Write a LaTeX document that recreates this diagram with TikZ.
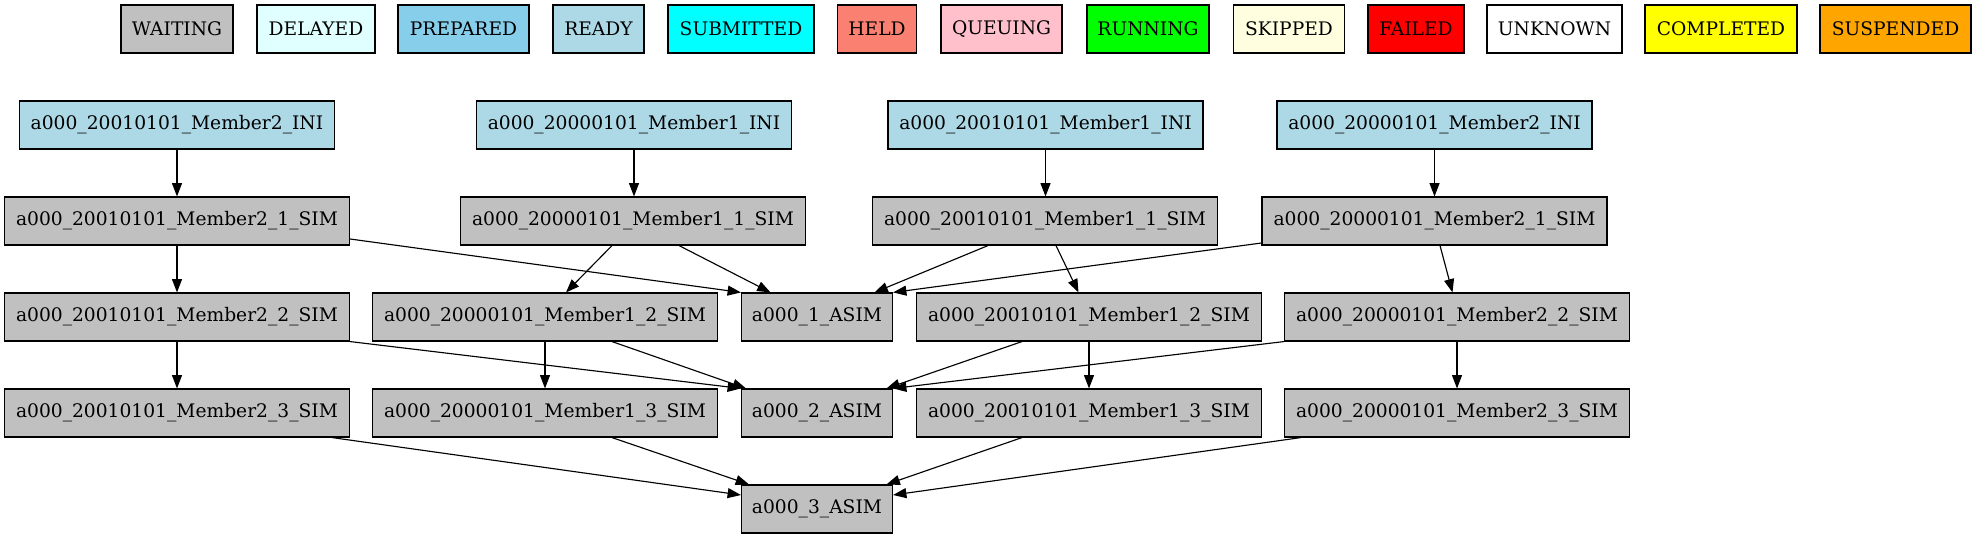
\documentclass[tikz,border=0pt]{standalone}
\usepackage{fontspec}
\setmainfont{DejaVu Serif}
\usetikzlibrary{arrows.meta}
\definecolor{gvgray}{HTML}{C0C0C0}
\definecolor{gvlightcyan}{HTML}{E0FFFF}
\definecolor{gvskyblue}{HTML}{87CEEB}
\definecolor{gvlightblue}{HTML}{ADD8E6}
\definecolor{gvcyan}{HTML}{00FFFF}
\definecolor{gvsalmon}{HTML}{FA8072}
\definecolor{gvpink}{HTML}{FFC0CB}
\definecolor{gvgreen}{HTML}{00FF00}
\definecolor{gvlightyellow}{HTML}{FFFFE0}
\definecolor{gvred}{HTML}{FF0000}
\definecolor{gvyellow}{HTML}{FFFF00}
\definecolor{gvorange}{HTML}{FFA500}
\tikzset{
  box/.style={draw=black, line width=0.85pt, rectangle, minimum height=36pt, inner sep=0pt,
    font=\fontsize{14}{16}\selectfont, anchor=center},
  wd/.style={minimum width=#1*0.75pt},
  ini/.style={box, fill=gvlightblue, wd=315},
  sim/.style={box, fill=gvgray, wd=345},
  asim/.style={box, fill=gvgray, wd=151},
  edge/.style={-{Triangle[length=10pt,width=7.5pt]}, line width=0.85pt}
}
\begin{document}
\begin{tikzpicture}[x=0.75pt, y=-0.75pt]
\useasboundingbox (0,0) rectangle (1977,539);
% legend
\node[box, fill=gvgray, wd=112] (lwaiting) at (177,29) {WAITING};
\node[box, fill=gvlightcyan, wd=118] (ldelayed) at (316,29) {DELAYED};
\node[box, fill=gvskyblue, wd=131] (lprepared) at (463.5,29) {PREPARED};
\node[box, fill=gvlightblue, wd=91] (lready) at (598.5,29) {READY};
\node[box, fill=gvcyan, wd=146] (lsubmitted) at (741,29) {SUBMITTED};
\node[box, fill=gvsalmon, wd=79.5] (lheld) at (877,29) {HELD};
\node[box, fill=gvpink, wd=121] (lqueuing) at (1001.5,29) {QUEUING};
\node[box, fill=gvgreen, wd=122] (lrunning) at (1148,29) {RUNNING};
\node[box, fill=gvlightyellow, wd=111.5] (lskipped) at (1289,29) {SKIPPED};
\node[box, fill=gvred, wd=96] (lfailed) at (1416,29) {FAILED};
\node[box, fill=white, wd=135] (lunknown) at (1554.5,29) {UNKNOWN};
\node[box, fill=gvyellow, wd=152] (lcompleted) at (1721,29) {COMPLETED};
\node[box, fill=gvorange, wd=151] (lsuspended) at (1895.5,29) {SUSPENDED};
% INI row
\node[ini] (ini2b) at (177,125) {a000\_20010101\_Member2\_INI};
\node[ini] (ini1a) at (634,125) {a000\_20000101\_Member1\_INI};
\node[ini] (ini1b) at (1045.5,125) {a000\_20010101\_Member1\_INI};
\node[ini] (ini2a) at (1434.5,125) {a000\_20000101\_Member2\_INI};
% SIM 1 row
\node[sim] (s12b) at (177,221) {a000\_20010101\_Member2\_1\_SIM};
\node[sim] (s11a) at (633,221) {a000\_20000101\_Member1\_1\_SIM};
\node[sim] (s11b) at (1045,221) {a000\_20010101\_Member1\_1\_SIM};
\node[sim] (s12a) at (1434.5,221) {a000\_20000101\_Member2\_1\_SIM};
% row 3
\node[sim] (s22b) at (177,317) {a000\_20010101\_Member2\_2\_SIM};
\node[sim] (s21a) at (545,317) {a000\_20000101\_Member1\_2\_SIM};
\node[asim] (asim1) at (817,317) {a000\_1\_ASIM};
\node[sim] (s21b) at (1089,317) {a000\_20010101\_Member1\_2\_SIM};
\node[sim] (s22a) at (1457,317) {a000\_20000101\_Member2\_2\_SIM};
% row 4
\node[sim] (s32b) at (177,413) {a000\_20010101\_Member2\_3\_SIM};
\node[sim] (s31a) at (545,413) {a000\_20000101\_Member1\_3\_SIM};
\node[asim] (asim2) at (817,413) {a000\_2\_ASIM};
\node[sim] (s31b) at (1089,413) {a000\_20010101\_Member1\_3\_SIM};
\node[sim] (s32a) at (1457,413) {a000\_20000101\_Member2\_3\_SIM};
% row 5
\node[asim] (asim3) at (817,509) {a000\_3\_ASIM};
% INI -> SIM1
\draw[edge] (ini2b.south) -- (ini2b.south |- s12b.north);
\draw[edge] (ini1a.south) -- (ini1a.south |- s11a.north);
\draw[edge] (ini1b.south) -- (ini1b.south |- s11b.north);
\draw[edge] (ini2a.south) -- (ini2a.south |- s12a.north);
% SIM1 -> SIM2
\draw[edge] (s12b.south) -- (s22b.north);
\draw[edge] ([xshift=-21*0.75pt]s11a.south) -- ([xshift=21*0.75pt]s21a.north);
\draw[edge] ([xshift=11*0.75pt]s11b.south) -- ([xshift=-10.5*0.75pt]s21b.north);
\draw[edge] ([xshift=5.5*0.75pt]s12a.south) -- ([xshift=-4.5*0.75pt]s22a.north);
% SIM1 -> ASIM1
\draw[edge] ([yshift=-18*0.75pt]s12b.east) -- (asim1.north west);
\draw[edge] ([xshift=46*0.75pt]s11a.south) -- ([xshift=-46.5*0.75pt]asim1.north);
\draw[edge] ([xshift=-57*0.75pt]s11b.south) -- ([xshift=57.5*0.75pt]asim1.north);
\draw[edge] ([yshift=-22*0.75pt]s12a.west) -- (asim1.north east);
% SIM2 -> SIM3
\draw[edge] (s22b.south) -- (s32b.north);
\draw[edge] (s21a.south) -- (s31a.north);
\draw[edge] (s21b.south) -- (s31b.north);
\draw[edge] (s22a.south) -- (s32a.north);
% SIM2 -> ASIM2
\draw[edge] (s22b.south east) -- (asim2.north west);
\draw[edge] ([xshift=67*0.75pt]s21a.south) -- ([xshift=-71*0.75pt]asim2.north);
\draw[edge] ([xshift=-67*0.75pt]s21b.south) -- ([xshift=69.5*0.75pt]asim2.north);
\draw[edge] (s22a.south west) -- (asim2.north east);
% SIM3 -> ASIM3
\draw[edge] ([xshift=155*0.75pt]s32b.south) -- ([yshift=14*0.75pt]asim3.west);
\draw[edge] ([xshift=67*0.75pt]s31a.south) -- ([xshift=-68*0.75pt]asim3.north);
\draw[edge] ([xshift=-67*0.75pt]s31b.south) -- ([xshift=69.5*0.75pt]asim3.north);
\draw[edge] ([xshift=17*0.75pt]s32a.south west) -- ([yshift=14*0.75pt]asim3.east);
\end{tikzpicture}
\end{document}
